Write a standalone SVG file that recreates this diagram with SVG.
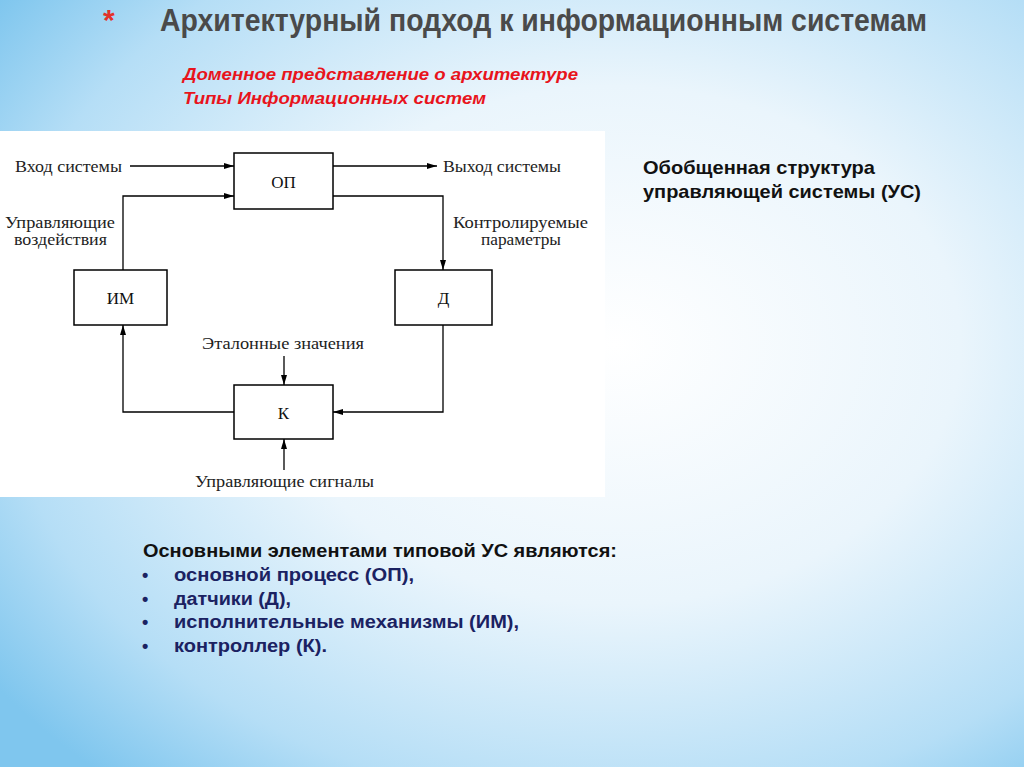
<svg xmlns="http://www.w3.org/2000/svg" width="1024" height="767" viewBox="0 0 1024 767">
<defs>
<radialGradient id="bg" cx="0.6" cy="0.45" r="0.75">
<stop offset="0" stop-color="#ffffff"/>
<stop offset="0.45" stop-color="#eaf5fc"/>
<stop offset="0.8" stop-color="#b5def6"/>
<stop offset="1" stop-color="#7fc6ee"/>
</radialGradient>
<marker id="ah" viewBox="0 0 10 6" refX="10" refY="3" markerWidth="10" markerHeight="6" markerUnits="userSpaceOnUse" orient="auto">
<path d="M0,0 L10,3 L0,6 Z" fill="#000"/>
</marker>
<style>
.box{fill:#fff;stroke:#000;stroke-width:1.5}
.ln{fill:none;stroke:#000;stroke-width:1.3}
.lbl{font-family:"Liberation Serif",serif;font-size:16px;fill:#222}
.bl{font-family:"Liberation Serif",serif;font-size:17px;fill:#111;text-anchor:middle}
.red{font-family:"Liberation Sans",Arial,sans-serif;font-size:17px;font-weight:bold;font-style:italic;fill:#e8141c}
.blk{font-family:"Liberation Sans",Arial,sans-serif;font-size:19px;font-weight:bold;fill:#111}
.nav{font-family:"Liberation Sans",Arial,sans-serif;font-size:18px;font-weight:bold;fill:#1b2262}
</style>
</defs>
<rect width="1024" height="767" fill="url(#bg)"/>
<text x="103" y="30" font-family="Liberation Sans,sans-serif" font-size="30" font-weight="bold" fill="#e2322a">*</text>
<text x="160" y="31" font-family="Liberation Sans,sans-serif" font-size="31" font-weight="bold" fill="#4a4a4a" textLength="767" lengthAdjust="spacingAndGlyphs">Архитектурный подход к информационным системам</text>
<text class="red" x="183" y="80" textLength="395" lengthAdjust="spacingAndGlyphs">Доменное представление о архитектуре</text>
<text class="red" x="183" y="104" textLength="303" lengthAdjust="spacingAndGlyphs">Типы Информационных систем</text>

<rect x="0" y="131" width="605" height="366" fill="#fff"/>

<g id="connectors">
<line class="ln" x1="130" y1="166" x2="234" y2="166" marker-end="url(#ah)"/>
<polyline class="ln" points="123,270 123,196 234,196" marker-end="url(#ah)"/>
<line class="ln" x1="333" y1="166" x2="437" y2="166" marker-end="url(#ah)"/>
<polyline class="ln" points="333,196 443,196 443,270" marker-end="url(#ah)"/>
<polyline class="ln" points="443,325 443,412 333,412" marker-end="url(#ah)"/>
<polyline class="ln" points="234,412 123,412 123,325" marker-end="url(#ah)"/>
<line class="ln" x1="284" y1="356" x2="284" y2="385" marker-end="url(#ah)"/>
<line class="ln" x1="284" y1="470" x2="284" y2="439" marker-end="url(#ah)"/>
<text class="lbl" x="15" y="172" textLength="107" lengthAdjust="spacingAndGlyphs">Вход системы</text>
<text class="lbl" x="443" y="172" textLength="118" lengthAdjust="spacingAndGlyphs">Выход системы</text>
<text class="lbl" x="5" y="228" textLength="110" lengthAdjust="spacingAndGlyphs">Управляющие</text>
<text class="lbl" x="14" y="245" textLength="93" lengthAdjust="spacingAndGlyphs">воздействия</text>
<text class="lbl" x="453" y="228" textLength="135" lengthAdjust="spacingAndGlyphs">Контролируемые</text>
<text class="lbl" x="481" y="245" textLength="80" lengthAdjust="spacingAndGlyphs">параметры</text>
<text class="lbl" x="202" y="349" textLength="162" lengthAdjust="spacingAndGlyphs">Эталонные значения</text>
<text class="lbl" x="195" y="487" textLength="179" lengthAdjust="spacingAndGlyphs">Управляющие сигналы</text>
</g>

<g id="op"><rect class="box" x="234" y="153" width="99" height="56"/><text class="bl" x="283.5" y="188">ОП</text></g>
<g id="im"><rect class="box" x="74" y="270" width="93" height="55"/><text class="bl" x="120.5" y="304">ИМ</text></g>
<g id="d"><rect class="box" x="395" y="270" width="97" height="55"/><text class="bl" x="443.5" y="304">Д</text></g>
<g id="k"><rect class="box" x="234" y="385" width="99" height="54"/><text class="bl" x="283.5" y="419">К</text></g>

<text class="blk" x="643" y="174" textLength="232" lengthAdjust="spacingAndGlyphs">Обобщенная структура</text>
<text class="blk" x="643" y="198" textLength="278" lengthAdjust="spacingAndGlyphs">управляющей системы (УС)</text>

<text class="blk" x="143" y="557" textLength="474" lengthAdjust="spacingAndGlyphs">Основными элементами типовой УС являются:</text>
<g class="nav">
<text x="142" y="581">•</text><text x="174" y="581" textLength="240" lengthAdjust="spacingAndGlyphs">основной  процесс (ОП),</text>
<text x="142" y="605">•</text><text x="174" y="605" textLength="117" lengthAdjust="spacingAndGlyphs">датчики (Д),</text>
<text x="142" y="628">•</text><text x="174" y="628" textLength="345" lengthAdjust="spacingAndGlyphs">исполнительные механизмы (ИМ),</text>
<text x="142" y="652">•</text><text x="174" y="652" textLength="153" lengthAdjust="spacingAndGlyphs">контроллер (К).</text>
</g>
</svg>
